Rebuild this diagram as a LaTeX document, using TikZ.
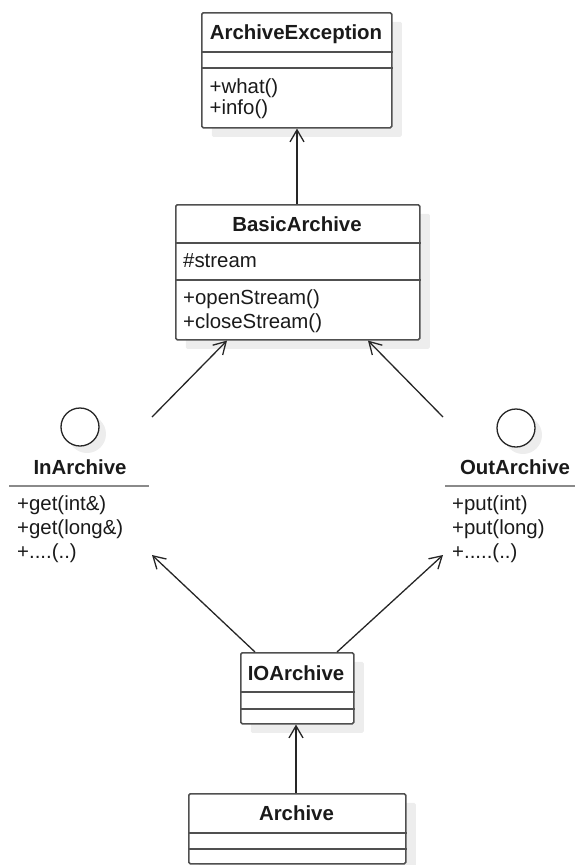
\documentclass[tikz,border=0pt]{standalone}
\usepackage{fontspec}
\setmainfont{Liberation Sans}
\usetikzlibrary{arrows.meta,shadows}

\definecolor{boxline}{HTML}{505050}
\definecolor{wire}{HTML}{262626}
\definecolor{ifaceline}{HTML}{8A8A8A}
\definecolor{shade}{HTML}{EDEDED}
\definecolor{ink}{HTML}{1A1A1A}

\tikzset{
  classbox/.style={draw=boxline, line width=1.6pt, fill=white, rounded corners=1.5pt,
    inner sep=0pt, anchor=north west,
    drop shadow={shadow xshift=10pt, shadow yshift=-9pt, fill=shade, opacity=1}},
  divider/.style={draw=boxline, line width=1.6pt},
  hdr/.style={inner sep=0pt, text=ink, font=\fontsize{20.4}{24}\selectfont\bfseries, anchor=base},
  member/.style={inner sep=0pt, text=ink, font=\fontsize{20.4}{24}\selectfont, anchor=base west},
  iface/.style={circle, draw=wire, line width=1.3pt, fill=white, minimum size=38pt, inner sep=0pt,
    drop shadow={shadow xshift=7pt, shadow yshift=-7pt, fill=shade, opacity=1}},
  ifacebar/.style={draw=ifaceline, line width=2.6pt},
  assoc/.style={draw=wire, line width=1.3pt, -{Straight Barb[length=12pt,width=14pt,line width=1.3pt]}},
}

\begin{document}
\begin{tikzpicture}[x=1pt,y=-1pt]
\useasboundingbox (0,0) rectangle (575,865);

% ArchiveException
\node[classbox, minimum width=190pt, minimum height=115pt] (AE) at (201,12) {};
\draw[divider] (AE.west |- 0,52) -- (AE.east |- 0,52);
\draw[divider] (AE.west |- 0,68) -- (AE.east |- 0,68);
\node[hdr] (AE-name) at (296,39) {ArchiveException};
\node[member] (AE-m1) at (209.5,93) {+what()};
\node[member] (AE-m2) at (209.5,114) {+info()};

% BasicArchive
\node[classbox, minimum width=244pt, minimum height=135pt] (BA) at (175,204) {};
\draw[divider] (BA.west |- 0,243) -- (BA.east |- 0,243);
\draw[divider] (BA.west |- 0,280) -- (BA.east |- 0,280);
\node[hdr] (BA-name) at (297,231) {BasicArchive};
\node[member] (BA-a1) at (183,267) {\#stream};
\node[member] (BA-m1) at (183,304) {+openStream()};
\node[member] (BA-m2) at (183,328) {+closeStream()};

% InArchive interface
\node[iface] (IA) at (80,427) {};
\node[hdr] (IA-name) at (80,474) {InArchive};
\draw[ifacebar] (9,486) -- (149,486);
\node[member] (IA-m1) at (17,510) {+get(int\&)};
\node[member] (IA-m2) at (17,534) {+get(long\&)};
\node[member] (IA-m3) at (17,558) {+....(..)};

% OutArchive interface
\node[iface] (OA) at (516,428) {};
\node[hdr] (OA-name) at (515,474) {OutArchive};
\draw[ifacebar] (445,486) -- (575,486);
\node[member] (OA-m1) at (452,510) {+put(int)};
\node[member] (OA-m2) at (452,534) {+put(long)};
\node[member] (OA-m3) at (452,558) {+.....(..)};

% IOArchive
\node[classbox, minimum width=113pt, minimum height=71pt] (IO) at (240,652) {};
\draw[divider] (IO.west |- 0,692) -- (IO.east |- 0,692);
\draw[divider] (IO.west |- 0,709) -- (IO.east |- 0,709);
\node[hdr] (IO-name) at (296,680) {IOArchive};

% Archive
\node[classbox, minimum width=217pt, minimum height=70pt] (AR) at (188,793) {};
\draw[divider] (AR.west |- 0,833) -- (AR.east |- 0,833);
\draw[divider] (AR.west |- 0,849) -- (AR.east |- 0,849);
\node[hdr] (AR-name) at (296.5,820) {Archive};

% connector ends beside the interfaces
\coordinate (IA-top) at (152,417);
\coordinate (IA-low) at (152,555);
\coordinate (OA-top) at (443,417);
\coordinate (OA-low) at (443,555);

% connectors
\draw[assoc] (BA.north -| 297,0) -- (AE.south -| 297,0);
\draw[assoc] (IA-top) -- (BA.south -| 227,0);
\draw[assoc] (OA-top) -- (BA.south -| 368,0);
\draw[assoc] (IO.north -| 255,0) -- (IA-low);
\draw[assoc] (IO.north -| 337,0) -- (OA-low);
\draw[assoc] (AR.north -| 296,0) -- (IO.south -| 296,0);
\end{tikzpicture}
\end{document}
